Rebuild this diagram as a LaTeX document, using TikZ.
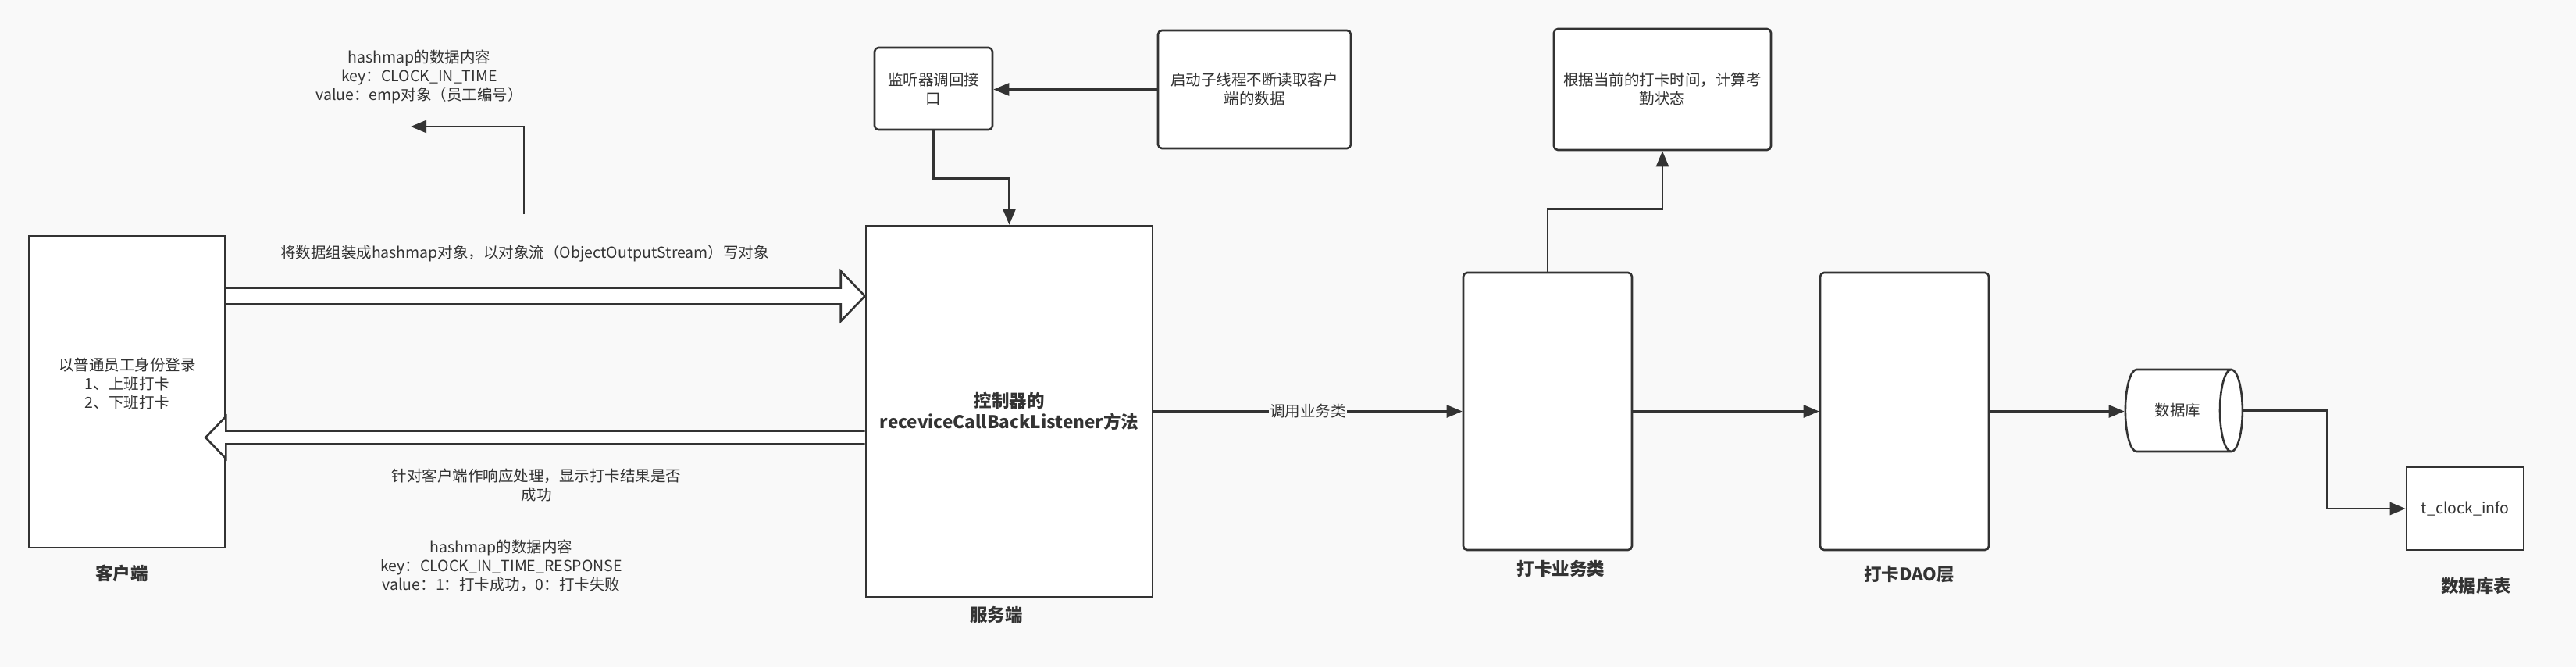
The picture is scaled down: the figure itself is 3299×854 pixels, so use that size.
\documentclass[tikz,border=0pt]{standalone}
\usepackage{fontspec}
\setmainfont{Noto Sans CJK SC}
\usetikzlibrary{arrows.meta,shapes.geometric,calc}
\definecolor{bg}{HTML}{F9F9F9}
\definecolor{ink}{HTML}{333333}

\begin{document}
\begin{tikzpicture}[x=1pt,y=-1pt,color=ink,line width=2.6pt,
  font=\fontsize{19.5}{24}\selectfont,
  every node/.style={align=center},
  plainbox/.style={draw,fill=white,inner sep=0pt},
  roundbox/.style={plainbox,rounded corners=5pt},
  title/.style={font=\bfseries\fontsize{22.5}{27}\selectfont},
  link/.style={-{Triangle[length=20pt,width=16pt]}},
  fat/.style={fill=white,line join=miter}]
\pgfmathsetmacro{\sendy}{379}
\pgfmathsetmacro{\body}{10.5}
\pgfmathsetmacro{\head}{32}
\pgfmathsetmacro{\headlen}{31}
\pgfmathsetmacro{\backy}{560}
\pgfmathsetmacro{\bodyb}{8.5}
\pgfmathsetmacro{\headb}{27}
\pgfmathsetmacro{\headlenb}{26}
\useasboundingbox (0,0) rectangle (3299,854);
\fill[bg] (0,0) rectangle (3299,854);

% boxes
\node[plainbox,minimum width=251,minimum height=399] (client) at (162.5,501.5) {};
\node (clienttext) at (163,491) {以普通员工身份登录\\1、上班打卡\\2、下班打卡};
\node[plainbox,minimum width=367,minimum height=475,title] (server) at (1292.5,526.5) {控制器的\\receviceCallBackListener方法};
\node[roundbox,minimum width=151,minimum height=105] (listener) at (1195.5,113.5) {监听器调回接\\口};
\node[roundbox,minimum width=247,minimum height=151] (reader) at (1606.5,114.5) {启动子线程不断读取客户\\端的数据};
\node[roundbox,minimum width=278,minimum height=155] (attend) at (2129,114.5) {根据当前的打卡时间，计算考\\勤状态};
\node[roundbox,minimum width=216,minimum height=355] (service) at (1982,526.5) {};
\node[roundbox,minimum width=216,minimum height=355] (dao) at (2439,526.5) {};
\node[cylinder,draw,fill=white,shape aspect=1.6,minimum width=105,minimum height=150,inner sep=0pt] (db) at (2789,525.5) {数据库};
\node[plainbox,minimum width=150,minimum height=106] (table) at (3157,651) {t\_clock\_info};

% titles
\node[title] (clientname) at (156,734) {客户端};
\node[title] (servername) at (1276,787) {服务端};
\node[title] (servicename) at (1999,728) {打卡业务类};
\node[title] (daoname) at (2445,735) {打卡DAO层};
\node[title] (tablename) at (3171,750) {数据库表};

% notes
\node (sendnote) at (537,98) {hashmap的数据内容\\key：CLOCK\_IN\_TIME\\value：emp对象（员工编号）};
\node (sendlabel) at (672,325) {将数据组装成hashmap对象，以对象流（ObjectOutputStream）写对象};
\node (backlabel) at (687,621) {针对客户端作响应处理，显示打卡结果是否\\成功};
\node (backnote) at (642,724) {hashmap的数据内容\\key：CLOCK\_IN\_TIME\_RESPONSE\\value：1：打卡成功，0：打卡失败};

% fat arrows
\coordinate (sendtail) at (client.east |- 0,\sendy);
\coordinate (sendtip) at (server.west |- 0,\sendy);
\draw[fat] ($(sendtail)+(0,-\body)$) -- ($(sendtip)+(-\headlen,-\body)$) -- ($(sendtip)+(-\headlen,-\head)$) -- (sendtip)
  -- ($(sendtip)+(-\headlen,\head)$) -- ($(sendtip)+(-\headlen,\body)$) -- ($(sendtail)+(0,\body)$);
\coordinate (backtail) at (server.west |- 0,\backy);
\coordinate (backbase) at (client.east |- 0,\backy);
\draw[fat] ($(backtail)+(0,-\bodyb)$) -- ($(backbase)+(0,-\bodyb)$) -- ($(backbase)+(0,-\headb)$) -- ($(backbase)+(-\headlenb,0)$)
  -- ($(backbase)+(0,\headb)$) -- ($(backbase)+(0,\bodyb)$) -- ($(backtail)+(0,\bodyb)$);

% connectors
\coordinate (upstart) at (671,274);
\coordinate (upend) at (526,162);
\draw[link] (upstart) |- (upend);
\draw[link] (reader.west) -- (reader.west -| listener.east);
\draw[link] (listener.south) -- ++(0,61) -| (server.north);
\draw[link] (server.east) -- node[fill=bg,inner sep=1pt] (calltext) {调用业务类} (service.west);
\draw[link] (service.north) -- ++(0,-80) -| (attend.south);
\draw[link] (service) -- (dao);
\draw[link] (dao.east) -- (dao.east -| db.west);
\draw[link] (db.east) -- ++(107,0) |- (table.west);
\end{tikzpicture}
\end{document}
